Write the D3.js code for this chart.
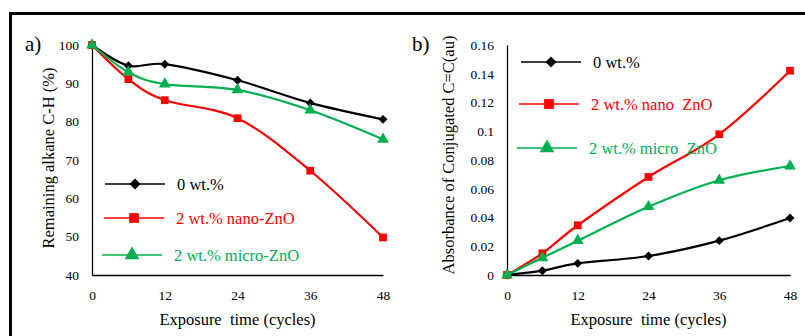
<!DOCTYPE html>
<meta charset="utf-8">
<script src="https://d3js.org/d3.v7.min.js"></script>
<style>
  body { margin: 0; background: #fff; }
</style>
<svg id="vis"></svg>
<script>
    // Exposure times (cycles)
    let cycles = [0, 6, 12, 24, 36, 48]
    let xTicks = [0, 12, 24, 36, 48]
    let seriesNames = ['0 wt.%', '2 wt.% nano-ZnO', '2 wt.% micro-ZnO']
    let seriesNamesB = ['0 wt.%', '2 wt.% nano  ZnO', '2 wt.% micro  ZnO']
    let seriesColors = ['#000000', '#ff0000', '#00b050']
    let seriesShapes = ['diamond', 'square', 'triangle']

    // a) Remaining alkane C-H (%)
    let alkane0 = [100, 94.6, 95.0, 90.8, 84.9, 80.6]
    let alkaneNano = [100, 91.1, 85.6, 80.9, 67.2, 49.8]
    let alkaneMicro = [100, 92.9, 89.8, 88.3, 83.0, 75.4]
    let yTicksA = [40, 50, 60, 70, 80, 90, 100]

    // b) Absorbance of conjugated C=C (au)
    let absorb0 = [0, 0.003, 0.0081, 0.0132, 0.0239, 0.0397]
    let absorbNano = [0, 0.0151, 0.0346, 0.0682, 0.0979, 0.1421]
    let absorbMicro = [0, 0.012, 0.0239, 0.0475, 0.0659, 0.0758]
    let yTicksB = [0, 0.02, 0.04, 0.06, 0.08, 0.1, 0.12, 0.14, 0.16]

    let fontSerif = '"Liberation Serif", Tinos, "Times New Roman", "DejaVu Serif", serif'

    let svg = d3.select('#vis')
        .attr('width', 805)
        .attr('height', 336)
        .style('font-family', fontSerif)

    // outer frame
    svg.append('rect')
        .attr('x', 10.5).attr('y', 13.5)
        .attr('width', 820).attr('height', 340)
        .attr('fill', 'none')
        .attr('stroke', '#000')
        .attr('stroke-width', 3)

    // a square turned 45 degrees, like the Excel diamond marker
    let diamondSym = {
        draw: function (context, size) {
            let r = Math.sqrt(size / 2)
            context.moveTo(0, -r)
            context.lineTo(r, 0)
            context.lineTo(0, r)
            context.lineTo(-r, 0)
            context.closePath()
        }
    }
    let symbol = {
        diamond: diamondSym,
        square: d3.symbolSquare,
        triangle: d3.symbolTriangle
    }

    function drawPanel(opt) {
        let g = svg.append('g')

        let x = d3.scaleLinear().domain([0, 48]).range([opt.x0, opt.x1])
        let y = d3.scaleLinear().domain(opt.yDomain).range([275, 45])

        g.append('g')
            .attr('transform', 'translate(0,275)')
            .call(d3.axisBottom(x).tickValues(xTicks).tickSize(0).tickPadding(15))
            .call(a => a.select('.domain').attr('stroke', '#000').attr('stroke-width', 1.3))
            .selectAll('text')
            .style('font-family', fontSerif)
            .style('font-size', '13.5px')
            .attr('fill', '#000')

        g.append('g')
            .attr('transform', 'translate(' + opt.x0 + ',0)')
            .call(d3.axisLeft(y).tickValues(opt.yTicks).tickSize(0).tickPadding(13).tickFormat(opt.fmt))
            .call(a => a.select('.domain').attr('stroke', '#000').attr('stroke-width', 1.3))
            .selectAll('text')
            .style('font-family', fontSerif)
            .style('font-size', '13.5px')
            .attr('fill', '#000')

        // panel label
        g.append('text')
            .attr('x', opt.labelX).attr('y', 51)
            .style('font-family', fontSerif)
            .style('font-size', '21px')
            .text(opt.label)

        // axis titles
        g.append('text')
            .attr('x', (opt.x0 + opt.x1) / 2).attr('y', 325)
            .attr('text-anchor', 'middle')
            .style('font-family', fontSerif)
            .style('font-size', '16.5px')
            .style('white-space', 'pre')
            .text('Exposure\u00a0 time (cycles)')

        g.append('text')
            .attr('transform', 'translate(' + opt.titleX + ',' + opt.titleY + ') rotate(-90)')
            .attr('text-anchor', 'middle')
            .attr('dy', '0.35em')
            .style('font-family', fontSerif)
            .style('font-size', '16.5px')
            .text(opt.yTitle)

        let line = d3.line()
            .x((d, i) => x(cycles[i]))
            .y(d => y(d))
            .curve(d3.curveCatmullRom.alpha(0))

        opt.series.forEach(function (vals, k) {
            g.append('path')
                .datum(vals)
                .attr('d', line)
                .attr('fill', 'none')
                .attr('stroke', seriesColors[k])
                .attr('stroke-width', 2.2)

            g.append('g')
                .selectAll('path')
                .data(vals)
                .enter()
                .append('path')
                .attr('transform', (d, i) => 'translate(' + x(cycles[i]) + ',' + y(d) + ')')
                .attr('d', d3.symbol().type(symbol[seriesShapes[k]]).size(k === 0 ? 40 : 60))
                .attr('fill', seriesColors[k])
        })

        // legend
        opt.legend.forEach(function (p, k) {
            let lg = g.append('g').attr('transform', 'translate(' + p[0] + ',' + p[1] + ')')
            lg.append('line')
                .attr('x1', -30).attr('x2', 30)
                .attr('stroke', seriesColors[k])
                .attr('stroke-width', 1.3)
            lg.append('path')
                .attr('d', d3.symbol().type(symbol[seriesShapes[k]]).size(k === 0 ? 60 : 95))
                .attr('fill', seriesColors[k])
            lg.append('text')
                .attr('x', 42).attr('dy', '0.35em')
                .attr('fill', seriesColors[k])
                .style('font-family', fontSerif)
                .style('font-size', '16.5px')
                .style('white-space', 'pre')
                .text(opt.names[k])
        })
    }

    drawPanel({
        x0: 92, x1: 383,
        yDomain: [40, 100],
        yTicks: yTicksA,
        fmt: d3.format('d'),
        label: 'a)', labelX: 25,
        titleX: 48, titleY: 158,
        yTitle: 'Remaining alkane C-H (%)',
        series: [alkane0, alkaneNano, alkaneMicro],
        names: seriesNames,
        legend: [[135, 184], [134, 218], [132, 255]]
    })

    drawPanel({
        x0: 507, x1: 790,
        yDomain: [0, 0.16],
        yTicks: yTicksB,
        fmt: d => d === 0 ? '0' : String(+d.toFixed(2)),
        label: 'b)', labelX: 412,
        titleX: 448, titleY: 155,
        yTitle: 'Absorbance of Conjugated C=C(au)',
        series: [absorb0, absorbNano, absorbMicro],
        names: seriesNamesB,
        legend: [[551, 62], [549, 104], [547, 148]]
    })
</script>
